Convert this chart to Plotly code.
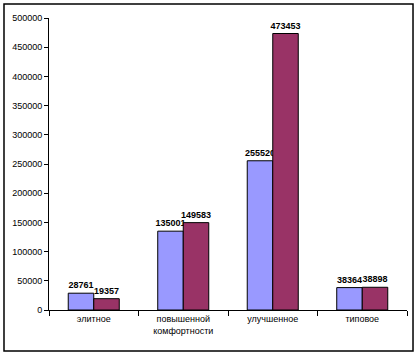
import plotly.graph_objects as go

categories = ["элитное", "повышенной<br>комфортности", "улучшенное", "типовое"]
series_a = [28761, 135001, 255520, 38364]
series_b = [19357, 149583, 473453, 38898]
y_ticks = [0, 50000, 100000, 150000, 200000, 250000, 300000, 350000, 400000, 450000, 500000]

label_font = dict(family="Liberation Sans, Arial", size=9, color="black", weight="bold")

fig = go.Figure()
fig.add_bar(x=categories, y=series_a, name="A", marker=dict(color="#9999FF", line=dict(color="black", width=1)),
            text=[str(v) for v in series_a], textposition="outside", cliponaxis=False,
            textfont=label_font)
fig.add_bar(x=categories, y=series_b, name="B", marker=dict(color="#993366", line=dict(color="black", width=1)),
            text=[str(v) for v in series_b], textposition="outside", cliponaxis=False,
            textfont=label_font)

fig.update_layout(
    width=417, height=355,
    margin=dict(l=49, r=10, t=18, b=45, autoexpand=False),
    paper_bgcolor="white", plot_bgcolor="white",
    barmode="group", bargap=0.43, bargroupgap=0,
    showlegend=False,
    font=dict(family="Liberation Sans, Arial", size=9, color="black"),
    xaxis=dict(showline=True, linecolor="black", linewidth=1, ticks="outside", ticklen=5,
               tickson="boundaries", tickcolor="black", showgrid=False, automargin=False,
               tickfont=dict(size=9)),
    yaxis=dict(range=[0, 500000], tickvals=y_ticks, ticktext=[str(v) for v in y_ticks],
               showline=True, linecolor="black", linewidth=1, ticks="outside", ticklen=4,
               tickcolor="black", showgrid=False, zeroline=False, automargin=False,
               tickfont=dict(size=9)),
    shapes=[dict(type="rect", xref="paper", yref="paper", x0=-0.1257, x1=1.0168, y0=-0.1404, y1=1.048,
                 line=dict(color="black", width=1.5), fillcolor="rgba(0,0,0,0)")],
)
fig.update_traces(textangle=0, constraintext="none")
fig.write_html("out.html", config={"displayModeBar": False},
               post_script="document.body.style.margin='0';document.body.style.overflow='hidden';")
